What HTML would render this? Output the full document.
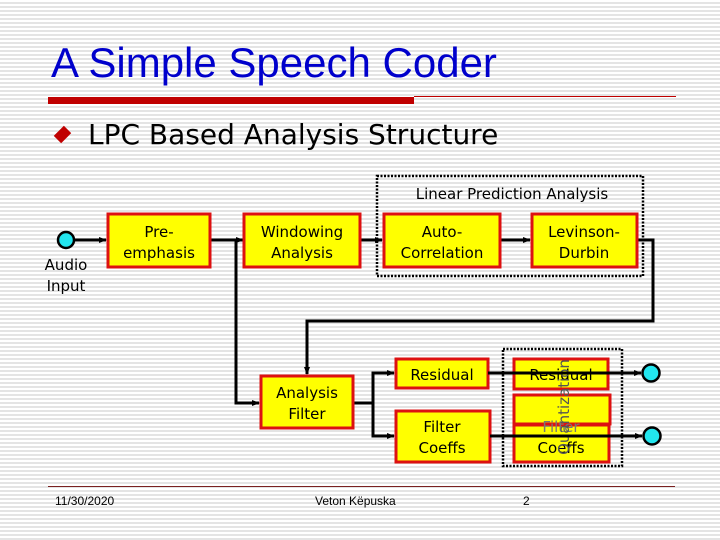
<!DOCTYPE html>
<html><head><meta charset="utf-8"><style>
body{margin:0}
#p{position:relative;width:720px;height:540px;overflow:hidden;font-family:"Liberation Sans",sans-serif;
background:repeating-linear-gradient(#fff 0 2px,#e4e4e4 2px 4px)}
.t{position:absolute;white-space:nowrap}
</style></head><body><div id="p">
<div class="t" style="left:51px;top:39px;font-size:42px;color:#0000cc">A Simple Speech Coder</div>
<div style="position:absolute;left:48px;top:97px;width:366px;height:7px;background:#c00000"></div>
<div style="position:absolute;left:414px;top:96px;width:262px;height:1px;background:#c00000"></div>
<div style="position:absolute;left:56px;top:128px;width:13px;height:13px;background:#c00000;transform:rotate(45deg) scale(0.8,1.1)"></div>
<div class="t" style="left:88px;top:118px;font-size:28px;color:#000;font-family:'DejaVu Sans',sans-serif">LPC Based Analysis Structure</div>
<div style="position:absolute;left:48px;top:486px;width:627px;height:1px;background:#7a2020"></div>
<div class="t" style="left:55px;top:494px;font-size:12px">11/30/2020</div>
<div class="t" style="left:315px;top:494px;font-size:12px">Veton Këpuska</div>
<div class="t" style="left:523px;top:494px;font-size:12px">2</div>
<svg width="720" height="540" style="position:absolute;left:0;top:0" font-family="DejaVu Sans, sans-serif" font-size="15">
<defs><marker id="a" markerWidth="8" markerHeight="8" refX="7" refY="4" orient="auto" markerUnits="userSpaceOnUse"><path d="M0,1 L8,4 L0,7z"/></marker></defs>
<g fill="none" stroke="#000" stroke-width="3">
<rect x="377" y="176" width="266" height="100" stroke-width="2.5" stroke-dasharray="2,1.5"/>
<rect x="503" y="349" width="119" height="117" stroke-width="2.5" stroke-dasharray="2,1.5"/>
<line x1="74" y1="240" x2="106" y2="240" marker-end="url(#a)"/>
<line x1="210" y1="240" x2="243" y2="240" marker-end="url(#a)"/>
<polyline points="236,240 236,403 259,403" marker-end="url(#a)"/>
<line x1="360" y1="240" x2="382" y2="240" marker-end="url(#a)"/>
<line x1="500" y1="240" x2="530" y2="240" marker-end="url(#a)"/>
<polyline points="637,240 653,240 653,321 307,321 307,374" marker-end="url(#a)"/>
<polyline points="353,403 373,403"/>
<polyline points="394,373 373,373 373,436 394,436"/>
<line x1="373" y1="373" x2="394" y2="373" marker-end="url(#a)"/>
<line x1="373" y1="436" x2="394" y2="436" marker-end="url(#a)"/>
</g>
<g fill="#ffff00" stroke="#dd1111" stroke-width="3">
<rect x="108" y="214" width="102" height="53"/>
<rect x="244" y="214" width="116" height="53"/>
<rect x="261" y="376" width="92" height="52"/>
<rect x="384" y="214" width="116" height="53"/>
<rect x="532" y="214" width="105" height="53"/>
<rect x="396" y="359" width="92" height="29"/>
<rect x="396" y="411" width="94" height="51"/>
<rect x="514" y="359" width="94" height="30"/>
<rect x="514" y="395" width="96" height="29"/>
<rect x="514" y="425" width="95" height="37"/>
</g>
<g text-anchor="middle" fill="#000">
<text x="159" y="237">Pre-</text><text x="159" y="258">emphasis</text>
<text x="302" y="237">Windowing</text><text x="302" y="258">Analysis</text>
<text x="307" y="398">Analysis</text><text x="307" y="419">Filter</text>
<text x="442" y="237">Auto-</text><text x="442" y="258">Correlation</text>
<text x="584" y="237">Levinson-</text><text x="584" y="258">Durbin</text>
<text x="442" y="380">Residual</text>
<text x="442" y="432">Filter</text><text x="442" y="453">Coeffs</text>
<text x="561" y="380">Residual</text>
<text x="561" y="432" fill="#777">Filter</text><text x="561" y="453">Coeffs</text>
<text x="512" y="199">Linear Prediction Analysis</text>
<text x="66" y="270">Audio</text><text x="66" y="291">Input</text>
<text transform="translate(569,407) rotate(-90)" fill="#555" font-size="15">Quantization</text>
</g>
<g fill="none" stroke="#000" stroke-width="3">
<line x1="488" y1="373" x2="641" y2="373" marker-end="url(#a)"/>
<line x1="490" y1="436" x2="642" y2="436" marker-end="url(#a)"/>
</g>
<g fill="#22e5ee" stroke="#000" stroke-width="2.5">
<circle cx="66" cy="240" r="8"/><circle cx="651" cy="373" r="8.5"/><circle cx="652" cy="436" r="8.5"/>
</g>
</svg>
</div></body></html>
